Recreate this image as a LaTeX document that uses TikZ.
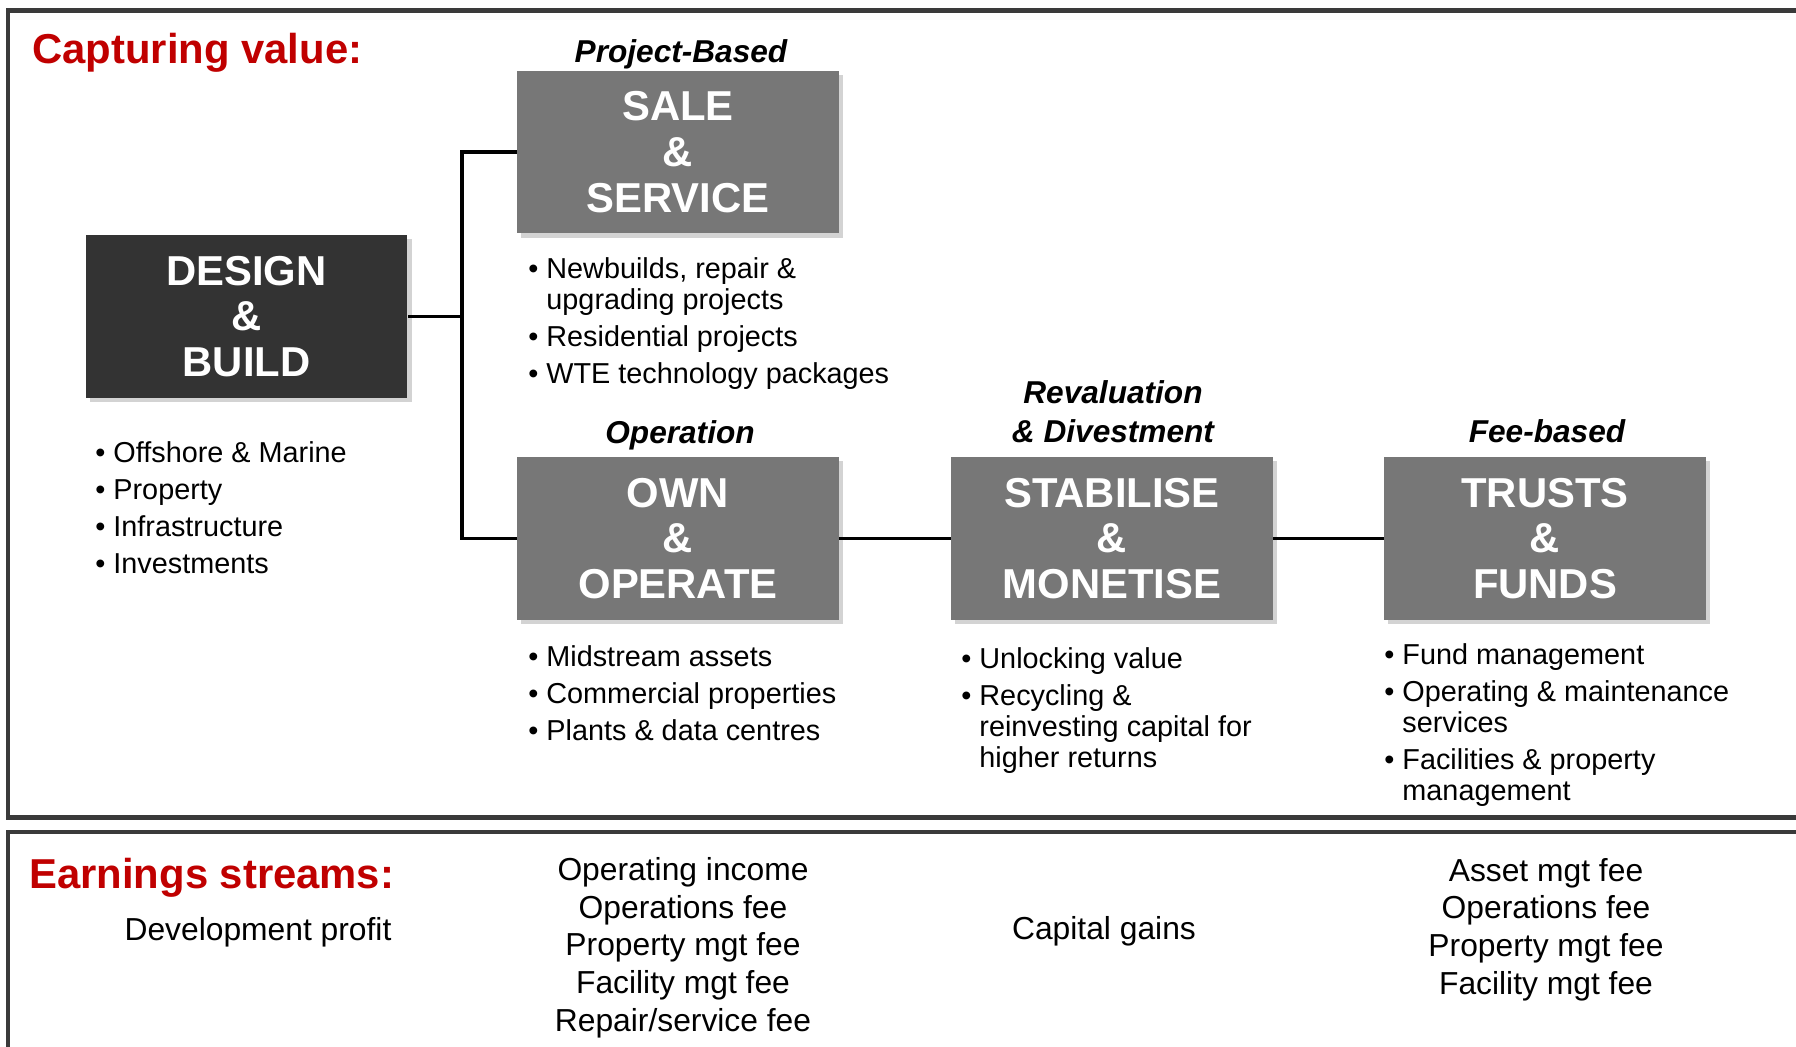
\documentclass[tikz,border=0pt]{standalone}
\usepackage{fontspec}
\setmainfont{Liberation Sans}
\usetikzlibrary{positioning,shadows,calc}
\definecolor{capred}{HTML}{C00000}
\definecolor{boxdark}{HTML}{333333}
\definecolor{boxgrey}{HTML}{777777}
\definecolor{framegrey}{HTML}{3A3A3A}
\newcommand{\bul}{\textbullet\ }
\newcommand{\ind}{\phantom{\textbullet\ }}

\begin{document}
\begin{tikzpicture}[x=0.02cm,y=-0.02cm,
		frame/.style={draw=framegrey,line width=2.8pt},
		stage/.style={fill=boxgrey,text=white,minimum width=6.44cm,minimum height=3.26cm,align=center,inner sep=0pt,
			font=\fontsize{23.8}{26.1}\selectfont\bfseries,
			drop shadow={shadow xshift=2.5pt,shadow yshift=-2.5pt,opacity=0.35}},
		link/.style={line width=2pt},
		bullets/.style={anchor=base west,align=left,inner sep=0pt,font=\fontsize{16.4}{17.6}\selectfont},
		lab/.style={anchor=base,align=center,inner sep=0pt,font=\fontsize{18}{22.1}\selectfont\bfseries\itshape},
		head/.style={anchor=base west,inner sep=0pt,text=capred,font=\fontsize{23.8}{26}\selectfont\bfseries},
		earn/.style={anchor=base,align=center,inner sep=0pt,font=\fontsize{18.1}{21.4}\selectfont}]
		\clip (0,0) rectangle (1796,1046);
		% frames
		\draw[frame] (8,10.5) rectangle (1830,817.5);
		\draw[frame] (8,832) rectangle (1830,1080);
		\node[head] (capt) at (32,63) {Capturing value:};
		\node[head] (earnhead) at (29,888) {Earnings streams:};
		% stages
		\node[stage,fill=boxdark] (design) at (246.5,316.5) {DESIGN\\\&\\BUILD};
		\node[stage] (sale) at (678,152) {SALE\\\&\\SERVICE};
		\node[stage] (own) at (678,538.5) {OWN\\\&\\OPERATE};
		\node[stage] (stab) at (1112,538.5) {STABILISE\\\&\\MONETISE};
		\node[stage] (trust) at (1545,538.5) {TRUSTS\\\&\\FUNDS};
		% labels (multi-line nodes sit on their last baseline)
		\node[lab] (labsale) at (681,62) {Project-Based};
		\node[lab] (labown) at (680,443) {Operation};
		\node[lab] (labstab) at (1113,442) {Revaluation\\\& Divestment};
		\node[lab] (labtrust) at (1547,442) {Fee-based};
		% connectors
		\coordinate (fork) at (462,316.5);
		\draw[link] (design.east) -- (fork);
		\draw[link] (fork) |- (sale.west);
		\draw[link] (fork) |- (own.west);
		\draw[link] (own.east) -- (stab.west);
		\draw[link] (stab.east) -- (trust.west);
		% bullet lists
		\node[bullets] (listdesign) at (95,573) {\bul Offshore \& Marine\\[3.4pt]\bul Property\\[3.4pt]\bul Infrastructure\\[3.4pt]\bul Investments};
		\node[bullets] (listsale) at (528,383) {\bul Newbuilds, repair \&\\\ind upgrading projects\\[3.4pt]\bul Residential projects\\[3.4pt]\bul WTE technology packages};
		\node[bullets] (listown) at (528,740) {\bul Midstream assets\\[3.4pt]\bul Commercial properties\\[3.4pt]\bul Plants \& data centres};
		\node[bullets] (liststab) at (961,767) {\bul Unlocking value\\[3.4pt]\bul Recycling \&\\\ind reinvesting capital for\\\ind higher returns};
		\node[bullets] (listtrust) at (1384,800) {\bul Fund management\\[3.4pt]\bul Operating \& maintenance\\\ind services\\[3.4pt]\bul Facilities \& property\\\ind management};
		% earnings
		\node[earn] (eardesign) at (258,940) {Development profit};
		\node[earn] (earown) at (683,1031) {Operating income\\Operations fee\\Property mgt fee\\Facility mgt fee\\Repair/service fee};
		\node[earn] (earstab) at (1104,939) {Capital gains};
		\node[earn] (eartrust) at (1546,994) {Asset mgt fee\\Operations fee\\Property mgt fee\\Facility mgt fee};
\end{tikzpicture}
\end{document}
